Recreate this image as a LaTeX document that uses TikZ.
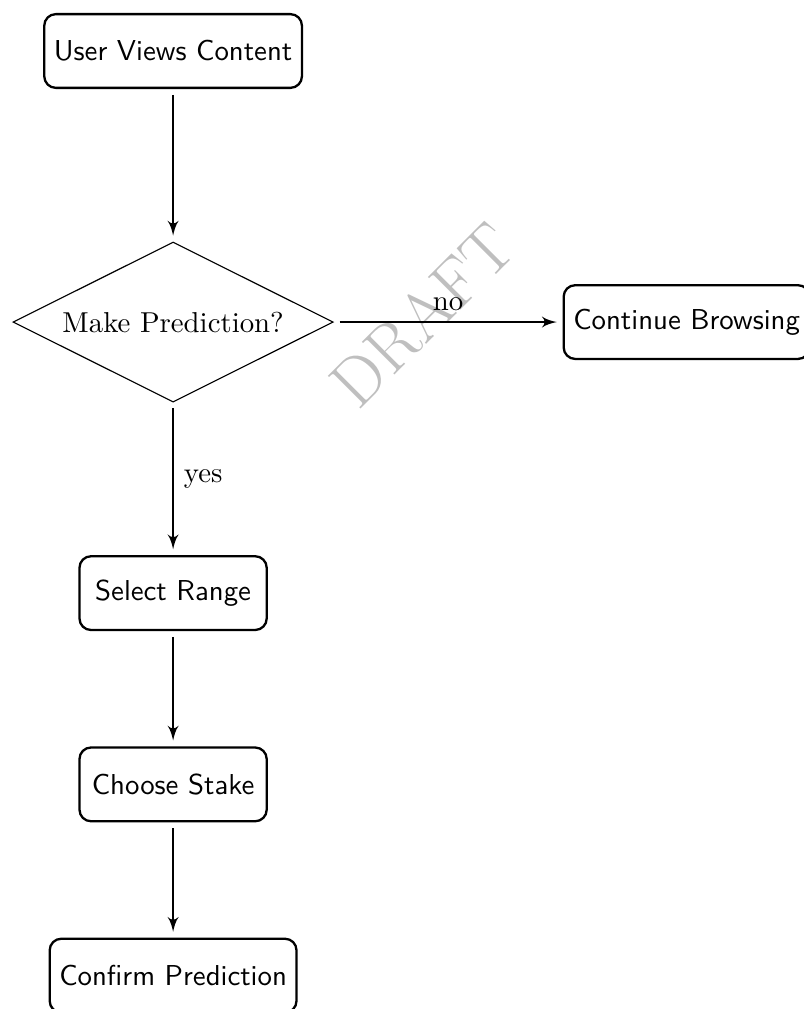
\documentclass[tikz,border=0pt]{standalone}
\usetikzlibrary{shapes,arrows}

\begin{document}
\begin{tikzpicture}[auto,
    block_round/.style ={rectangle, rounded corners, draw=black, thick,
      font=\sffamily, text centered, minimum width=65pt, minimum height=25.6pt},
    block_decide/.style ={diamond, aspect=2, draw=black, text centered},
    line/.style ={draw, thick, -latex', shorten >=2pt, shorten <=2pt},
    watermark/.style ={rotate=45, text=black!25, font=\fontsize{23.5}{28}\selectfont}]
    % visible area: the chart is cut at the right and at the bottom
    \useasboundingbox (-60.1pt,17.7pt) rectangle (218.7pt,-332.6pt);
    % watermark behind the chart
    \node [watermark] (draft) at (86.5pt,-91.7pt) {DRAFT};
    % outlining the flowchart using the PGF/TikZ matrix funtion
    \matrix [column sep=79.5pt,row sep=40pt,matrix anchor=start.center] at (0,0) {
      % row 1
      \node [block_round] (start) {User Views Content}; & \\[13pt]
      % row 2
      \node [block_decide] (decide) {Make Prediction?}; &
      \node [block_round] (browse) {Continue Browsing}; \\[13pt]
      % row 3
      \node [block_round] (range) {Select Range}; & \\
      % row 4
      \node [block_round] (stake) {Choose Stake}; & \\
      % row 5
      \node [block_round] (confirm) {Confirm Prediction}; & \\
    };
    % end matrix
    % connecting nodes with paths
    \begin{scope}[every path/.style=line]
     \path (start)   -- (decide);
     \path (decide)  -- node {no} (browse);
     \path (decide)  -- node {yes} (range);
     \path (range)   -- (stake);
     \path (stake)   -- (confirm);
    \end{scope}
\end{tikzpicture}
\end{document}
